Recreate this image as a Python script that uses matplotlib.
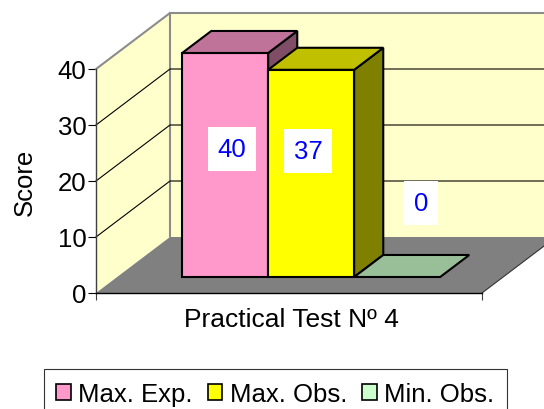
import matplotlib
matplotlib.use('Agg')
import matplotlib.pyplot as plt
from matplotlib.patches import Patch

plt.rcParams['font.family'] = ['Liberation Sans', 'DejaVu Sans']

series = ['Max. Exp.', 'Max. Obs.', 'Min. Obs.']
scores = [40, 37, 0]
y_ticks = [0, 10, 20, 30, 40]
x_label = 'Practical Test Nº 4'
y_label = 'Score'

front_colors = ['#FF99CC', '#FFFF00', '#CCFFCC']
top_colors = ['#BF7399', '#C0C000', '#99BF99']
side_colors = ['#804D66', '#808000', '#668066']

W, H = 544, 410
X0, X1 = 96, 482      # front of the floor, pixels
Y0, Y40 = 294, 70
BAR_W = 86            # pixels = 1 x unit
X_MAX = (X1 - X0) / BAR_W
SKEW = 74 / BAR_W     # x shift for full depth
RISE = 10             # score shift for full depth
BAR_D0, BAR_D1 = 0.286, 0.679
BAR_START = 0.756
FS = 18.5


def pr(x, v, d=0.0):
    """oblique projection: category x, score v, depth d (0 front, 1 back)"""
    return x + SKEW * d, v + RISE * d


def poly(ax, pts, color, edge='none', lw=0, z=1):
    xs = [p[0] for p in pts]
    ys = [p[1] for p in pts]
    ax.fill(xs, ys, facecolor=color, edgecolor=edge, linewidth=lw, clip_on=False,
            zorder=z, joinstyle='miter')


fig = plt.figure(figsize=(W / 100, H / 100), dpi=100)
ax = fig.add_axes([X0 / W, 1 - Y0 / H, (X1 - X0) / W, (Y0 - Y40) / H])
ax.set_xlim(0, X_MAX)
ax.set_ylim(0, y_ticks[-1])
ax.patch.set_alpha(0)

top = y_ticks[-1]
# walls and floor
poly(ax, [pr(0, 0), pr(0, top), pr(0, top, 1), pr(0, 0, 1)], '#FFFFCC', z=1)
poly(ax, [pr(0, 0, 1), pr(0, top, 1), pr(X_MAX, top, 1), pr(X_MAX, 0, 1)], '#FFFFCC', z=1)
poly(ax, [pr(0, 0), pr(X_MAX, 0), pr(X_MAX, 0, 1), pr(0, 0, 1)], '#808080', z=1)

# wall borders
border = [pr(0, top), pr(0, top, 1), pr(X_MAX, top, 1)]
ax.plot([p[0] for p in border], [p[1] for p in border], color='#8C8C8C', lw=1.5,
        clip_on=False, zorder=2, solid_joinstyle='miter')
back = [pr(0, 0, 1), pr(0, top, 1)]
ax.plot([p[0] for p in back], [p[1] for p in back], color='#8C8C8C', lw=1.5,
        clip_on=False, zorder=2)
edge = [pr(X_MAX, 0), pr(X_MAX, 0, 1)]
ax.plot([p[0] for p in edge], [p[1] for p in edge], color='#333333', lw=0.8,
        clip_on=False, zorder=2)

# gridlines, side wall then back wall
for v in y_ticks[1:-1]:
    line = [pr(0, v), pr(0, v, 1), pr(X_MAX, v, 1)]
    ax.plot([p[0] for p in line], [p[1] for p in line], color='black', lw=0.8,
            clip_on=False, zorder=2)

# bars, left to right so each one covers the side of the one before
for i in range(len(scores)):
    xa = BAR_START + i
    xb = xa + 1
    v = scores[i]
    d0, d1 = BAR_D0, BAR_D1
    ek = dict(edge='black', lw=1.5, z=3 + i)
    if v > 0:
        poly(ax, [pr(xa, v, d0), pr(xa, 0, d0), pr(xb, 0, d0), pr(xb, v, d0)], front_colors[i], **ek)
        poly(ax, [pr(xb, 0, d0), pr(xb, 0, d1), pr(xb, v, d1), pr(xb, v, d0)], side_colors[i], **ek)
    poly(ax, [pr(xa, v, d0), pr(xb, v, d0), pr(xb, v, d1), pr(xa, v, d1)], top_colors[i], **ek)

# value labels, placed in pixels
label_px = [(232, 150), (308, 152), (421, 204)]
for i in range(len(scores)):
    px, py = label_px[i]
    x = (px - X0) / BAR_W
    y = (Y0 - py) / (Y0 - Y40) * top
    ax.text(x, y, str(scores[i]), color='#0000FF', fontsize=FS, ha='center', va='center',
            zorder=10, bbox=dict(facecolor='white', edgecolor='none', pad=7))

for s in ['top', 'right']:
    ax.spines[s].set_visible(False)
ax.spines['left'].set_color('#404040')
ax.spines['left'].set_zorder(9)
ax.spines['bottom'].set_zorder(9)
ax.spines['bottom'].set_linewidth(1.0)
ax.spines['left'].set_linewidth(1.0)

ax.set_yticks(y_ticks)
ax.set_xticks([0, X_MAX])
ax.set_xticklabels([])
ax.tick_params(axis='y', length=6, width=0.8, labelsize=FS, pad=1)
ax.tick_params(axis='x', length=5, width=0.8, color='#404040')
ax.set_xlabel(x_label, fontsize=19)
ax.xaxis.set_label_coords((291 - X0) / (X1 - X0), -(320 - Y0) / (Y0 - Y40), transform=ax.transAxes)
ax.xaxis.label.set_va('center')
ax.set_ylabel(y_label, fontsize=FS)
ax.yaxis.set_label_coords((25 - X0) / (X1 - X0), (Y0 - 182) / (Y0 - Y40), transform=ax.transAxes)
ax.yaxis.label.set_va('center')

handles = [Patch(facecolor=front_colors[i], edgecolor='black', linewidth=1.2, label=series[i])
           for i in range(len(series))]
leg = fig.legend(handles=handles, ncol=3, loc='upper left',
                 bbox_to_anchor=(43.5 / W, 1 - 370 / H), bbox_transform=fig.transFigure,
                 frameon=True, fancybox=False, edgecolor='#333333', framealpha=1,
                 fontsize=FS, borderaxespad=0, handlelength=0.56, handleheight=0.56,
                 handletextpad=0.3, columnspacing=0.58, borderpad=0.5)
leg.get_frame().set_linewidth(0.8)

fig.savefig('out.png', dpi=100)
